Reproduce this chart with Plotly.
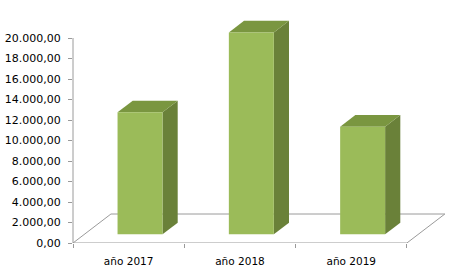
import plotly.graph_objects as go

categories = ["año 2017", "año 2018", "año 2019"]
values = [11900, 19700, 10500]
y_ticks = [0, 2000, 4000, 6000, 8000, 10000, 12000, 14000, 16000, 18000, 20000]
y_ticktext = ["0,00", "2.000,00", "4.000,00", "6.000,00", "8.000,00", "10.000,00",
              "12.000,00", "14.000,00", "16.000,00", "18.000,00", "20.000,00"]

# 3D projection parameters (in axis units)
DEPTH_X = 0.341     # floor depth offset along x (category units)
DEPTH_Y = 2829      # floor depth offset along y (value units)
BAR_W = 0.404
BAR_FRONT = 0.3     # fraction of depth where bar front sits
BAR_BACK = 0.7

FRONT_C = "#9bbb59"
TOP_C = "#7a9640"
SIDE_C = "#6a8139"
EDGE_C = "#9a9a9a"

fig = go.Figure()

n = len(categories)
# floor outline
fig.add_trace(go.Scatter(
    x=[0, n, n + DEPTH_X, DEPTH_X, 0],
    y=[0, 0, DEPTH_Y, DEPTH_Y, 0],
    mode="lines", line=dict(color=EDGE_C, width=1), hoverinfo="skip", showlegend=False))

bdx = (BAR_BACK - BAR_FRONT) * DEPTH_X
bdy = (BAR_BACK - BAR_FRONT) * DEPTH_Y
for i, v in enumerate(values):
    c = i + 0.5 + BAR_FRONT * DEPTH_X
    b = BAR_FRONT * DEPTH_Y
    x0, x1 = c - BAR_W / 2, c + BAR_W / 2
    top = b + v
    # side face
    fig.add_trace(go.Scatter(
        x=[x1, x1 + bdx, x1 + bdx, x1, x1], y=[b, b + bdy, top + bdy, top, b],
        fill="toself", fillcolor=SIDE_C, mode="lines", line=dict(width=0),
        hoverinfo="skip", showlegend=False))
    # top face
    fig.add_trace(go.Scatter(
        x=[x0, x1, x1 + bdx, x0 + bdx, x0], y=[top, top, top + bdy, top + bdy, top],
        fill="toself", fillcolor=TOP_C, mode="lines", line=dict(width=0),
        hoverinfo="skip", showlegend=False))
    # front face
    fig.add_trace(go.Scatter(
        x=[x0, x1, x1, x0, x0], y=[b, b, top, top, b],
        fill="toself", fillcolor=FRONT_C, mode="lines", line=dict(width=0),
        hoverinfo="skip", showlegend=False, name=categories[i]))

px_per_cat = 111.3
l_m, r_m = 73, 2
plot_w = 454 - l_m - r_m
t_m, b_m = 10, 31
plot_h = 274 - t_m - b_m
px_per_val = 0.01025

fig.update_layout(
    width=454, height=274,
    margin=dict(l=l_m, r=r_m, t=t_m, b=b_m),
    paper_bgcolor="white", plot_bgcolor="white",
    font=dict(family="DejaVu Sans", size=11, color="#000000"),
    xaxis=dict(
        range=[0, plot_w / px_per_cat],
        tickvals=[i + 0.5 for i in range(n)], ticktext=categories,
        ticks="", showgrid=False, zeroline=False, showline=False,
        tickfont=dict(size=10.5), ticklabelstandoff=10,
        minor=dict(tickvals=list(range(n + 1)), ticks="outside", ticklen=4,
                   tickcolor=EDGE_C, showgrid=False),
    ),
    yaxis=dict(
        range=[0, plot_h / px_per_val],
        tickvals=y_ticks, ticktext=y_ticktext,
        ticks="outside", ticklen=4, tickcolor=EDGE_C, ticklabelstandoff=5,
        showgrid=False, zeroline=False, showline=False,
    ),
    shapes=[dict(type="line", xref="paper", yref="y", x0=0, x1=0, y0=0, y1=20000,
                 line=dict(color=EDGE_C, width=1))],
)

fig.write_html("out.html")
